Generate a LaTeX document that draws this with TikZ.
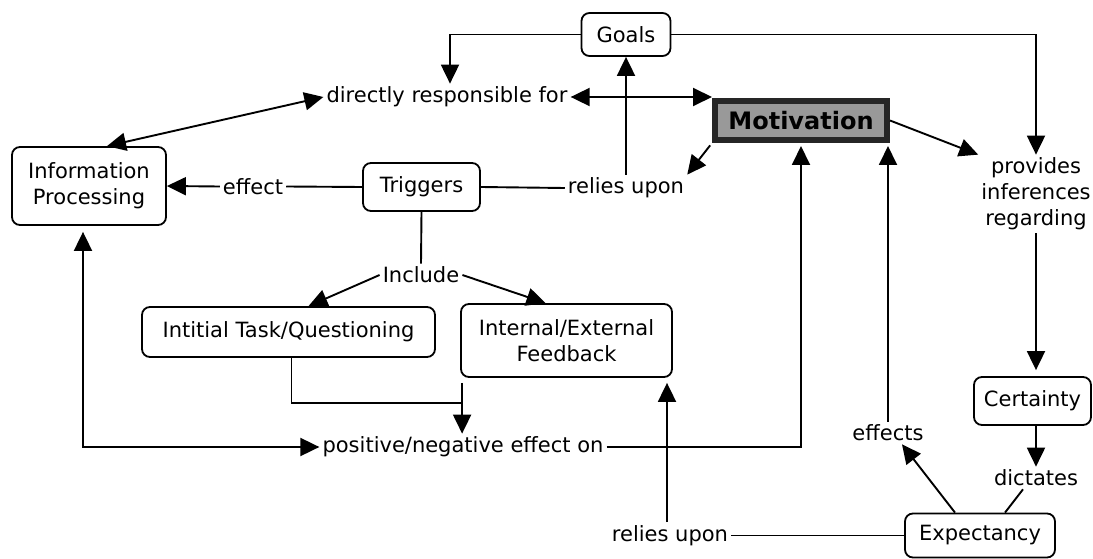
\documentclass[tikz,border=0pt]{standalone}
\usepackage{fontspec}
\setmainfont{DejaVu Sans}
\usetikzlibrary{arrows.meta,positioning,calc}

\tikzset{
  concept/.style={draw, rounded corners=8pt, line width=1.8pt, align=center, inner sep=0pt},
  linkword/.style={align=center, inner sep=3pt},
  conn/.style={line width=1.9pt},
  arr/.style={conn, -{Triangle[length=19pt,width=18pt]}},
  arrboth/.style={conn, {Triangle[length=19pt,width=18pt]}-{Triangle[length=19pt,width=18pt]}},
}

\begin{document}
\begin{tikzpicture}[x=1pt, y=-1pt, font=\fontsize{21}{26}\selectfont]
  \useasboundingbox (0,0) rectangle (1093,559);

  % Conceptos
  \node[concept, minimum width=89pt, minimum height=43pt] (goals) at (626,34.5) {Goals};
  \node[draw=black!85, fill=black!40, line width=6pt, minimum width=172pt, minimum height=39pt,
        inner sep=0pt, font=\fontsize{24}{28}\selectfont\bfseries] (mot) at (801,120.5) {Motivation};
  \node[concept, minimum width=154pt, minimum height=78pt] (ip) at (89,186) {Information\\Processing};
  \node[concept, minimum width=117pt, minimum height=48pt] (trig) at (421.5,187) {Triggers};
  \node[concept, minimum width=293pt, minimum height=50pt] (task) at (288.5,332) {Intitial Task/Questioning};
  \node[concept, minimum width=211pt, minimum height=73pt] (fb) at (566.5,340.5) {Internal/External\\Feedback};
  \node[concept, minimum width=117pt, minimum height=48pt] (cert) at (1032.5,401) {Certainty};
  \node[concept, minimum width=150pt, minimum height=44pt] (exp) at (980,535.5) {Expectancy};

  % Palabras de enlace
  \node[linkword] (drf) at (447,97) {directly responsible for};
  \node[linkword] (relA) at (626,188) {relies upon};
  \node[linkword] (eff) at (253,186.5) {effect};
  \node[linkword] (inc) at (421,275) {Include};
  \node[linkword] (pos) at (463,447) {positive/negative effect on};
  \node[linkword] (relB) at (670,535.5) {relies upon};
  \node[linkword] (effs) at (888,433) {effects};
  \node[linkword] (prov) at (1036,194) {provides\\inferences\\regarding};
  \node[linkword] (dict) at (1036,478) {dictates};

  % Goals
  \draw[arr] (goals.west) -| ($(drf.north)+(3,0)$);
  \draw[arr] (goals.east) -| (prov.north);

  % directly responsible for
  \draw[arrboth] ($(ip.north)+(18,0)$) -- (drf.west);
  \draw[arrboth] (drf.east) -- (drf.east -| mot.west);

  % Triggers
  \draw[conn] (trig.east) -- (relA.west);
  \draw[arr] (relA.north) -- (goals.south);
  \draw[arr, shorten <=3pt] (mot.south west) -- (relA.north east);
  \draw[conn] (trig.west) -- (eff.east);
  \draw[arr] (eff.west) -- (ip.east);
  \draw[conn] (trig.south) -- (inc.north);
  \draw[arr] (inc.west) -- ($(task.north)+(20,0)$);
  \draw[arr] (inc.east) -- ($(fb.north)+(-21,0)$);

  % positive/negative effect on
  \coordinate (join) at ($(fb.south west)+(2,25)$);
  \draw[conn] ($(task.south)+(3,0)$) |- (join);
  \draw[arr] ($(fb.south west)+(2,5)$) -- (join |- pos.north);
  \draw[arrboth, shorten <=6pt] ($(ip.south)+(-6,0)$) |- (pos.west);
  \draw[arr, shorten >=3pt] (pos.east) -| (mot.south);

  % Expectancy
  \coordinate (rb) at ($(relB.north)+(-3,0)$);
  \draw[arr, shorten >=5pt] (rb) -- (rb |- fb.south);
  \draw[conn] (relB.east) -- (exp.west);
  \draw[arr] ($(exp.north)+(-25,0)$) -- ($(effs.south)+(14,0)$);
  \draw[arr, shorten >=3pt] (effs.north) -- (effs.north |- mot.south);
  \draw[conn] ($(dict.south)+(-13,0)$) -- ($(exp.north)+(25,0)$);

  % Motivation -> Certainty
  \draw[arr] (mot.east) -- (prov.north west);
  \draw[arr, shorten >=6pt] (prov.south) -- (prov.south |- cert.north);
  \draw[arr] (dict.north |- cert.south) -- (dict.north);
\end{tikzpicture}
\end{document}
